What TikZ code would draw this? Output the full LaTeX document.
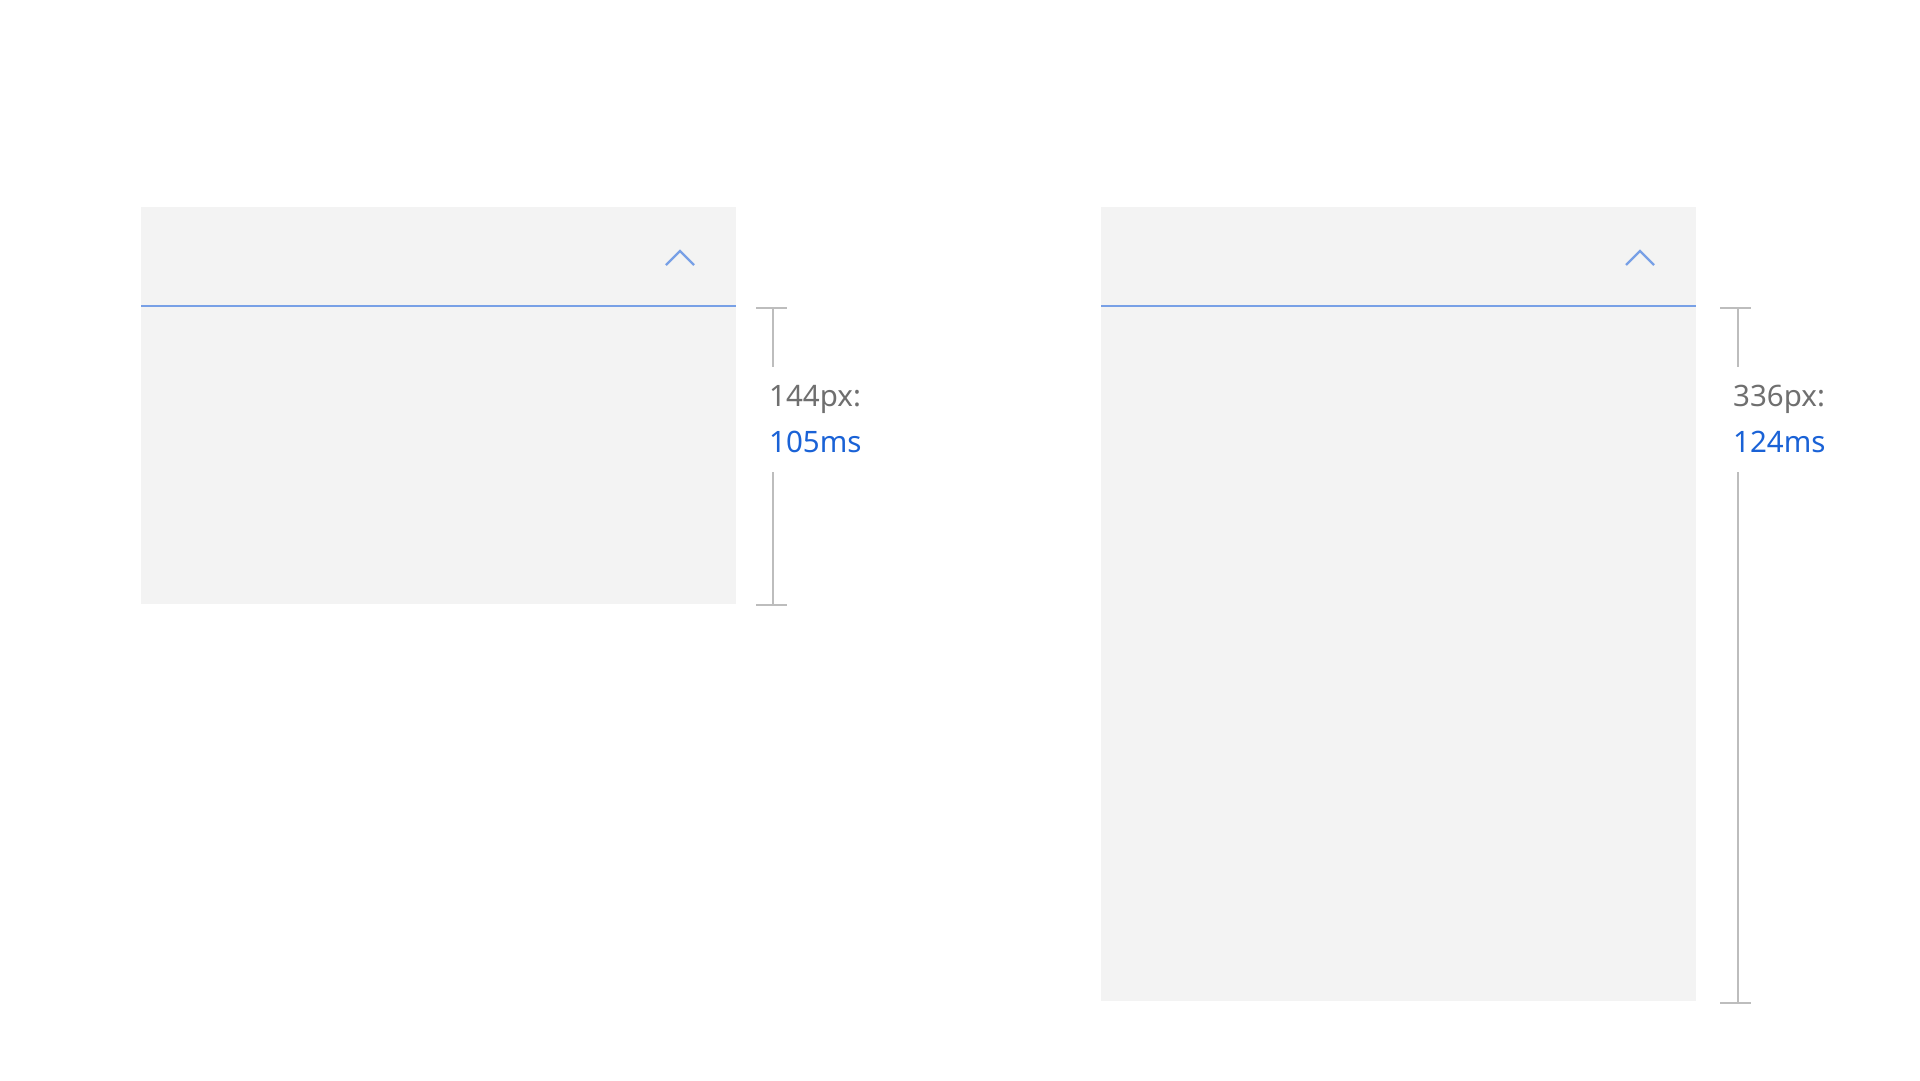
\documentclass[tikz,border=0pt]{standalone}
\usepackage{fontspec}
\setmainfont{Noto Sans}
\definecolor{panelfill}{HTML}{F3F3F3}
\definecolor{accentline}{HTML}{78A0E6}
\definecolor{dimgray}{HTML}{BDBDBD}
\definecolor{labelgray}{HTML}{6F6F6F}
\definecolor{labelblue}{HTML}{1A62D6}
\begin{document}
\begin{tikzpicture}[x=1pt,y=-1pt,
  panel/.style={fill=panelfill,draw=none,inner sep=0pt},
  accent/.style={draw=accentline,line width=2.4pt},
  chev/.style={draw=accentline,line width=2.2pt,line cap=butt},
  dimline/.style={draw=dimgray,line width=2.2pt},
  pxlabel/.style={anchor=base west,inner sep=0pt,text=labelgray,font=\fontsize{29.5}{34}\selectfont},
  mslabel/.style={anchor=base west,inner sep=0pt,text=labelblue,font=\fontsize{29.5}{34}\selectfont}]
\useasboundingbox (0,0) rectangle (1920,1080);
% left panel
\path[panel] (141,207) rectangle (736,604);
\coordinate (l1) at (141,306);
\coordinate (l2) at (736,306);
\draw[accent] (l1) -- (l2);
\coordinate (c1a) at (666,265);
\coordinate (c1b) at (680,251);
\coordinate (c1c) at (694,265);
\draw[chev] (c1a) -- (c1b) -- (c1c);
% left dimension
\coordinate (dl1) at (756,308);
\coordinate (dl2) at (787,308);
\coordinate (dlt) at (773,308);
\coordinate (dlu) at (773,367);
\coordinate (dll) at (773,472);
\coordinate (dlb) at (773,605);
\coordinate (dl3) at (756,605);
\coordinate (dl4) at (787,605);
\draw[dimline] (dl1) -- (dl2);
\draw[dimline] (dlt) -- (dlu);
\draw[dimline] (dll) -- (dlb);
\draw[dimline] (dl3) -- (dl4);
\node[pxlabel] (lpx) at (769,406) {144px:};
\node[mslabel] (lms) at (769,452) {105ms};
% right panel
\path[panel] (1101,207) rectangle (1696,1001);
\coordinate (r1) at (1101,306);
\coordinate (r2) at (1696,306);
\draw[accent] (r1) -- (r2);
\coordinate (c2a) at (1626,265);
\coordinate (c2b) at (1640,251);
\coordinate (c2c) at (1654,265);
\draw[chev] (c2a) -- (c2b) -- (c2c);
% right dimension
\coordinate (dr1) at (1720,308);
\coordinate (dr2) at (1751,308);
\coordinate (drt) at (1738,308);
\coordinate (dru) at (1738,367);
\coordinate (drl) at (1738,472);
\coordinate (drb) at (1738,1003);
\coordinate (dr3) at (1720,1003);
\coordinate (dr4) at (1751,1003);
\draw[dimline] (dr1) -- (dr2);
\draw[dimline] (drt) -- (dru);
\draw[dimline] (drl) -- (drb);
\draw[dimline] (dr3) -- (dr4);
\node[pxlabel] (rpx) at (1733,406) {336px:};
\node[mslabel] (rms) at (1733,452) {124ms};
\end{tikzpicture}
\end{document}
